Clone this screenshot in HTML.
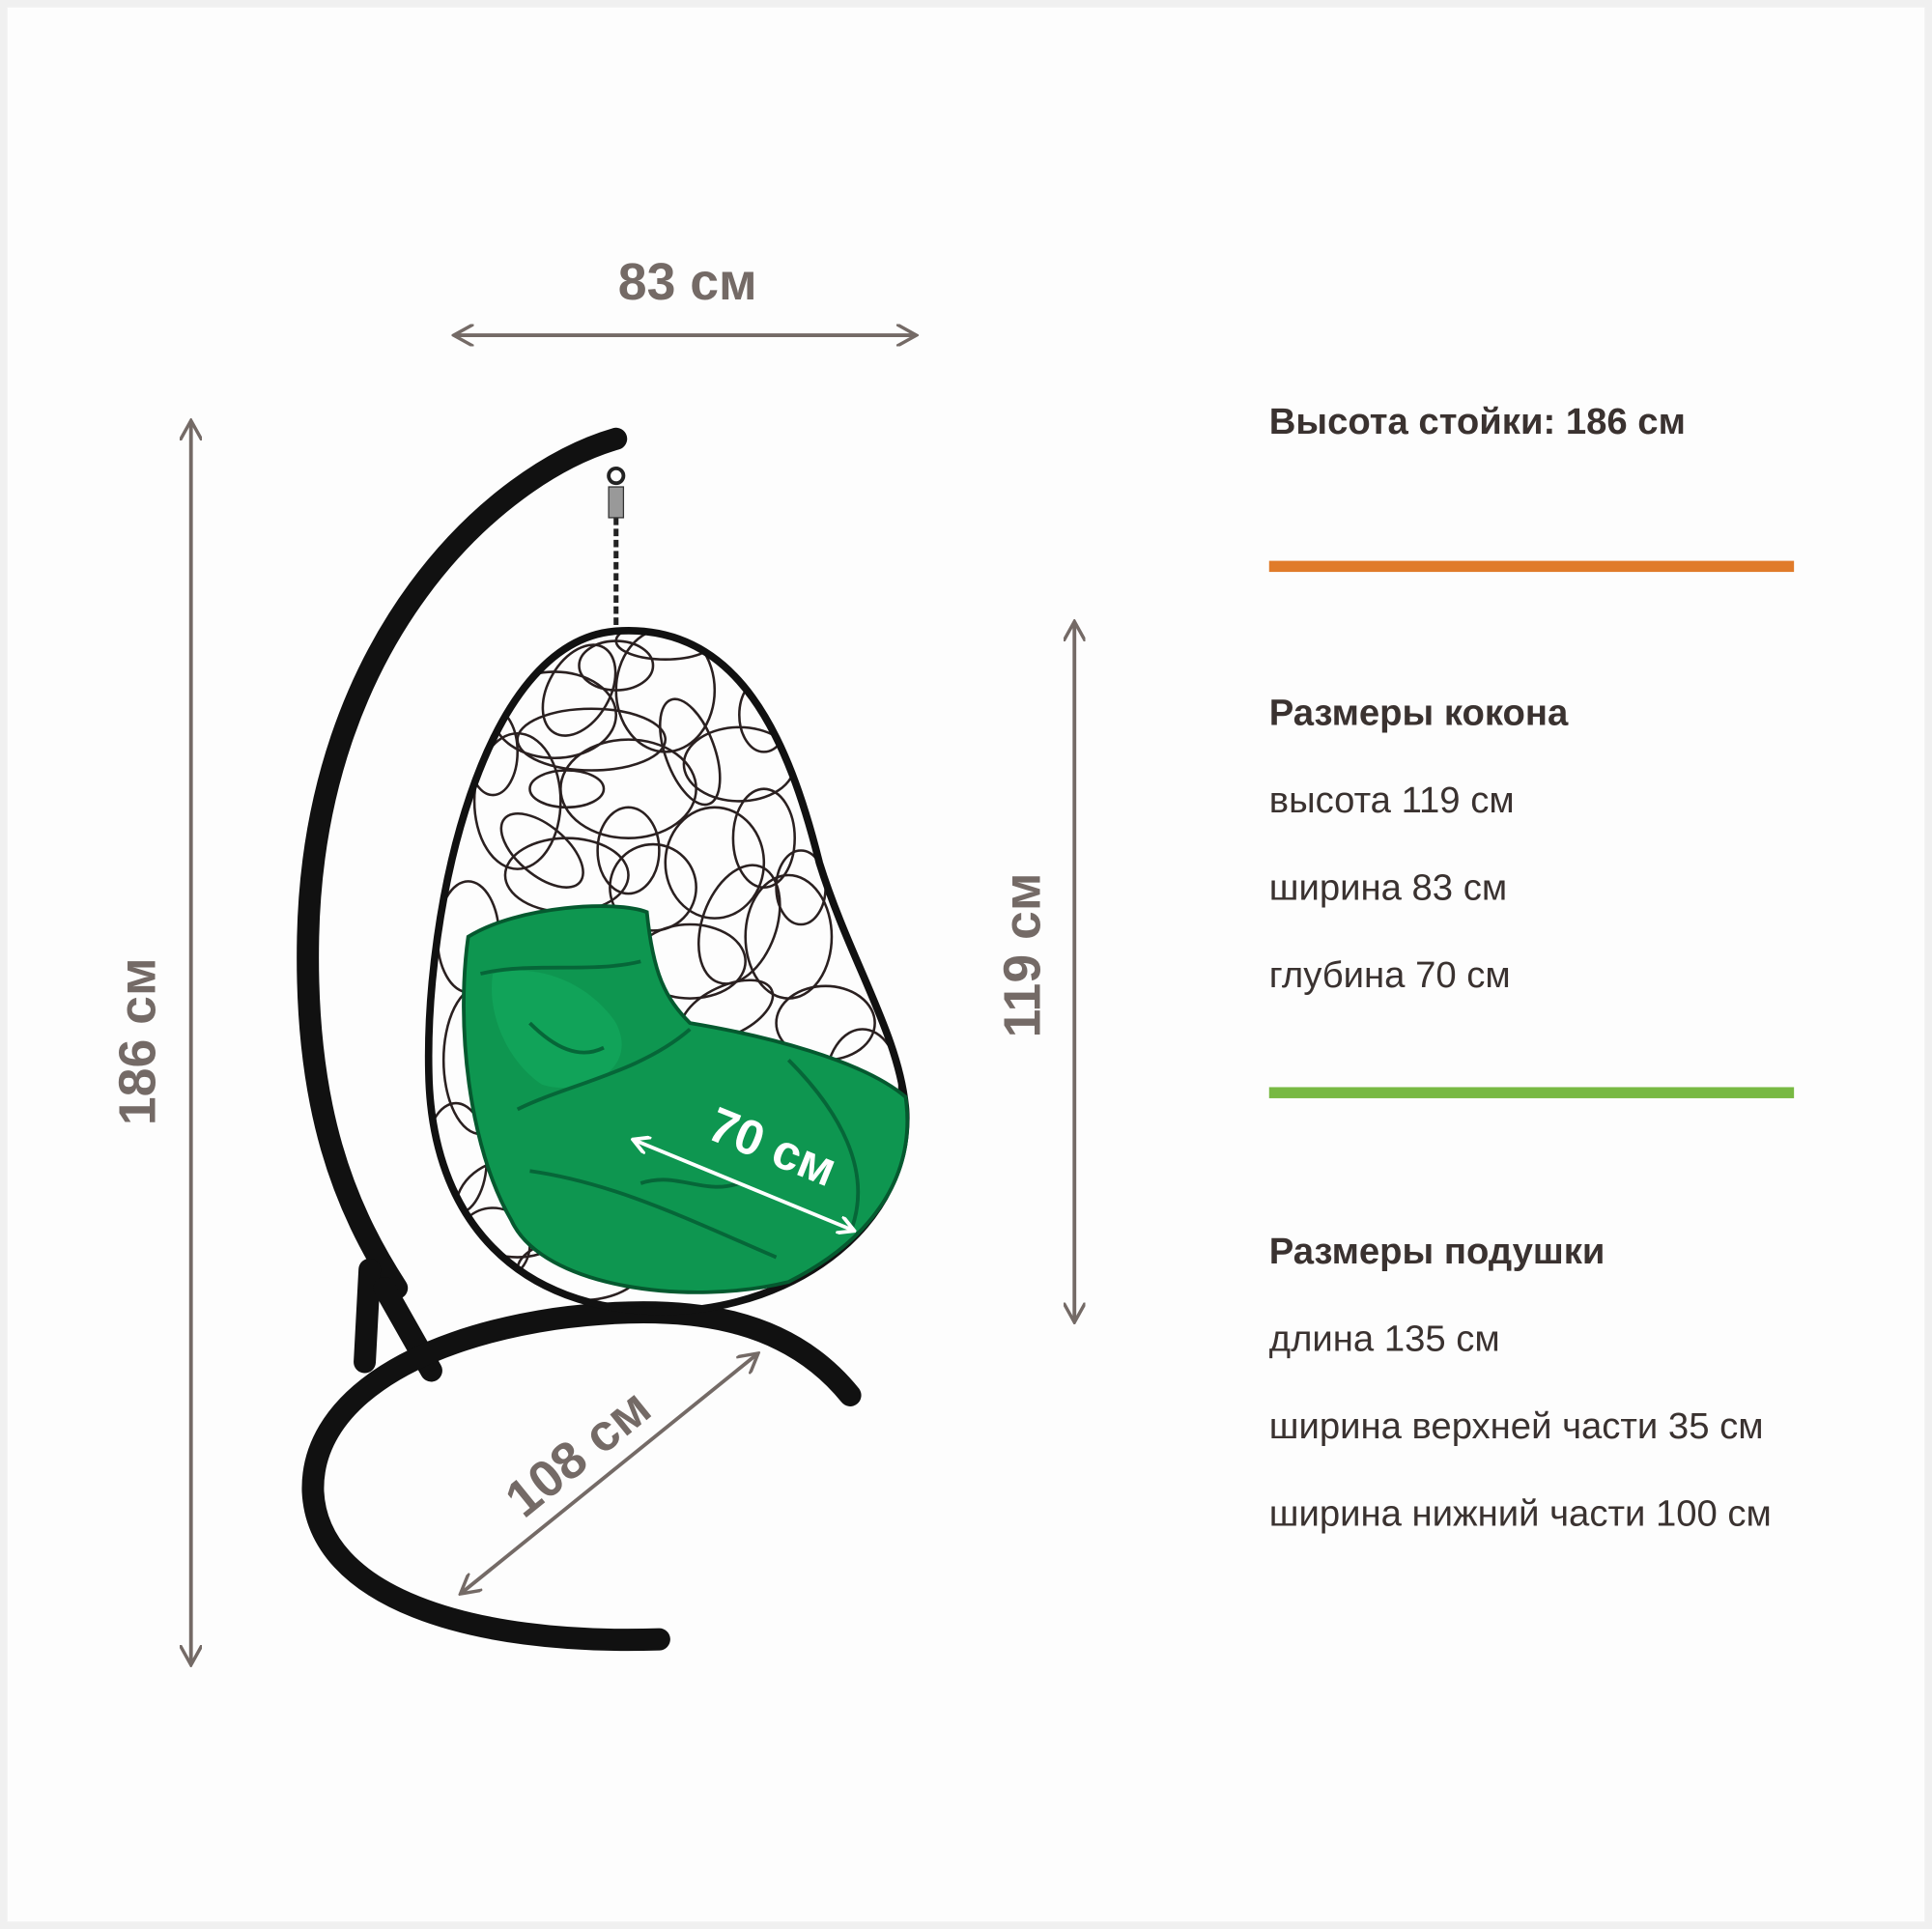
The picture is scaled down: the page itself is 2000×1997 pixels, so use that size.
<!DOCTYPE html>
<html><head><meta charset="utf-8"><style>
html,body{margin:0;padding:0;background:#fff;}
svg{display:block}
text{font-family:"Liberation Sans",sans-serif}
</style></head><body>
<svg width="2000" height="1997" viewBox="0 0 1568 1565" preserveAspectRatio="none" xmlns="http://www.w3.org/2000/svg">
<defs>
<clipPath id="egg"><path d="M500,512 C600,505 640,600 665,700 C690,780 730,840 735,900 C740,990 650,1062 540,1064 C420,1064 350,990 348,870 C345,740 390,520 500,512 Z"/></clipPath>
<marker id="ah" viewBox="0 0 10 10" refX="8" refY="5" markerWidth="6" markerHeight="6" orient="auto-start-reverse"><path d="M0,0 L9,5 L0,10" fill="none" stroke="#746a66" stroke-width="1.5"/></marker>
<marker id="aw" viewBox="0 0 10 10" refX="8" refY="5" markerWidth="5" markerHeight="5" orient="auto-start-reverse"><path d="M0,0 L9,5 L0,10" fill="none" stroke="#fff" stroke-width="2"/></marker>
</defs>
<rect width="1568" height="1565" fill="#fdfdfd"/>
<rect x="3" y="3" width="1562" height="1559" fill="none" stroke="#f0f0f0" stroke-width="6"/>

<g stroke="#746a66" stroke-width="3" fill="none">
<line x1="370" y1="272" x2="742" y2="272" marker-start="url(#ah)" marker-end="url(#ah)"/>
<line x1="155" y1="343" x2="155" y2="1349" marker-start="url(#ah)" marker-end="url(#ah)"/>
<line x1="872" y1="506" x2="872" y2="1071" marker-start="url(#ah)" marker-end="url(#ah)"/>
<line x1="375" y1="1292" x2="614" y2="1099" marker-start="url(#ah)" marker-end="url(#ah)"/>
</g>
<g fill="#746a66" font-weight="bold" font-size="42" text-anchor="middle">
<text x="558" y="243">83 см</text>
<text transform="translate(126,845) rotate(-90)">186 см</text>
<text transform="translate(844,775) rotate(-90)">119 см</text>
<text transform="translate(478,1190) rotate(-39)">108 см</text>
</g>

<g stroke="#111" stroke-width="18" fill="none" stroke-linecap="round">
<path d="M500,356 C400,385 255,520 250,760 C247,900 280,980 322,1045"/>
<path d="M300,1030 L296,1105"/>
<path d="M312,1045 L350,1112"/>
<path d="M690,1132 C640,1070 560,1055 450,1070 C330,1088 252,1140 254,1210 C258,1295 380,1335 535,1330"/>
</g>
<g stroke="#222" stroke-width="3" fill="none">
<circle cx="500" cy="386" r="6"/>
<path d="M500,420 L500,508" stroke-dasharray="6,3" stroke-width="4"/>
</g>
<rect x="494" y="395" width="12" height="25" fill="#999" stroke="#333"/>
<g clip-path="url(#egg)" stroke="#2a2020" stroke-width="2" fill="none">
<ellipse cx="450" cy="580" rx="50" ry="35"/><ellipse cx="540" cy="560" rx="40" ry="50"/>
<ellipse cx="600" cy="620" rx="45" ry="30"/><ellipse cx="420" cy="650" rx="35" ry="55"/>
<ellipse cx="510" cy="640" rx="55" ry="40"/><ellipse cx="580" cy="700" rx="40" ry="45"/>
<ellipse cx="460" cy="710" rx="50" ry="30"/><ellipse cx="640" cy="760" rx="35" ry="50"/>
<ellipse cx="560" cy="780" rx="45" ry="30"/><ellipse cx="670" cy="830" rx="40" ry="30"/>
<ellipse cx="390" cy="860" rx="30" ry="60"/><ellipse cx="420" cy="980" rx="50" ry="40"/>
<ellipse cx="500" cy="540" rx="30" ry="20"/><ellipse cx="620" cy="680" rx="25" ry="40"/>
<ellipse cx="480" cy="600" rx="60" ry="25"/><ellipse cx="530" cy="720" rx="35" ry="35"/>
<ellipse cx="380" cy="760" rx="25" ry="45"/><ellipse cx="700" cy="880" rx="30" ry="45"/>
<ellipse cx="470" cy="560" rx="25" ry="40" transform="rotate(30 470 560)"/>
<ellipse cx="560" cy="610" rx="20" ry="45" transform="rotate(-20 560 610)"/>
<ellipse cx="440" cy="690" rx="40" ry="20" transform="rotate(40 440 690)"/>
<ellipse cx="600" cy="750" rx="30" ry="50" transform="rotate(20 600 750)"/>
<ellipse cx="510" cy="690" rx="25" ry="35"/><ellipse cx="400" cy="610" rx="20" ry="35"/>
<ellipse cx="650" cy="720" rx="20" ry="30"/><ellipse cx="540" cy="520" rx="40" ry="15"/>
<ellipse cx="590" cy="820" rx="40" ry="20" transform="rotate(-25 590 820)"/>
<ellipse cx="370" cy="940" rx="25" ry="45"/><ellipse cx="470" cy="1030" rx="50" ry="25"/>
<ellipse cx="400" cy="1010" rx="30" ry="30"/><ellipse cx="460" cy="640" rx="30" ry="15"/>
<ellipse cx="620" cy="580" rx="20" ry="30"/>
</g>
<path d="M500,512 C600,505 640,600 665,700 C690,780 730,840 735,900 C740,990 650,1062 540,1064 C420,1064 350,990 348,870 C345,740 390,520 500,512 Z" fill="none" stroke="#111" stroke-width="6"/>
<path d="M380,760 C420,735 500,730 525,740 C530,790 540,810 560,830 C620,840 700,860 735,890 C745,960 700,1010 640,1040 C560,1060 440,1045 415,990 C380,930 370,830 380,760 Z" fill="#0e9650" stroke="#05592f" stroke-width="3"/>
<path d="M400,790 C440,780 480,800 500,830 C520,870 470,890 440,880 C410,860 395,820 400,790 Z" fill="#13a85c" opacity="0.7"/>
<g stroke="#066638" stroke-width="3" fill="none">
<path d="M390,790 C430,780 480,790 520,780"/>
<path d="M420,900 C460,880 520,870 560,835"/>
<path d="M430,950 C500,960 560,990 630,1020"/>
<path d="M640,860 C680,900 710,950 690,1000"/>
<path d="M430,830 C450,850 470,860 490,850"/>
<path d="M520,960 C550,950 570,970 600,960"/>
</g>
<line x1="515" y1="925" x2="692" y2="998" stroke="#fff" stroke-width="3" marker-start="url(#aw)" marker-end="url(#aw)"/>
<text transform="translate(622,943) rotate(22)" fill="#fff" font-weight="bold" font-size="40" text-anchor="middle">70 см</text>

<g fill="#3a3230" font-size="30">
<text x="1030" y="352" font-weight="bold">Высота стойки: 186 см</text>
<text x="1030" y="588" font-weight="bold">Размеры кокона</text>
<text x="1030" y="659">высота 119 см</text>
<text x="1030" y="730">ширина 83 см</text>
<text x="1030" y="801">глубина 70 см</text>
<text x="1030" y="1025" font-weight="bold">Размеры подушки</text>
<text x="1030" y="1096">длина 135 см</text>
<text x="1030" y="1167">ширина верхней части 35 см</text>
<text x="1030" y="1238">ширина нижний части 100 см</text>
</g>
<rect x="1030" y="455" width="426" height="9" fill="#e07b2a"/>
<rect x="1030" y="882" width="426" height="9" fill="#78b943"/>
</svg>
</body></html>
